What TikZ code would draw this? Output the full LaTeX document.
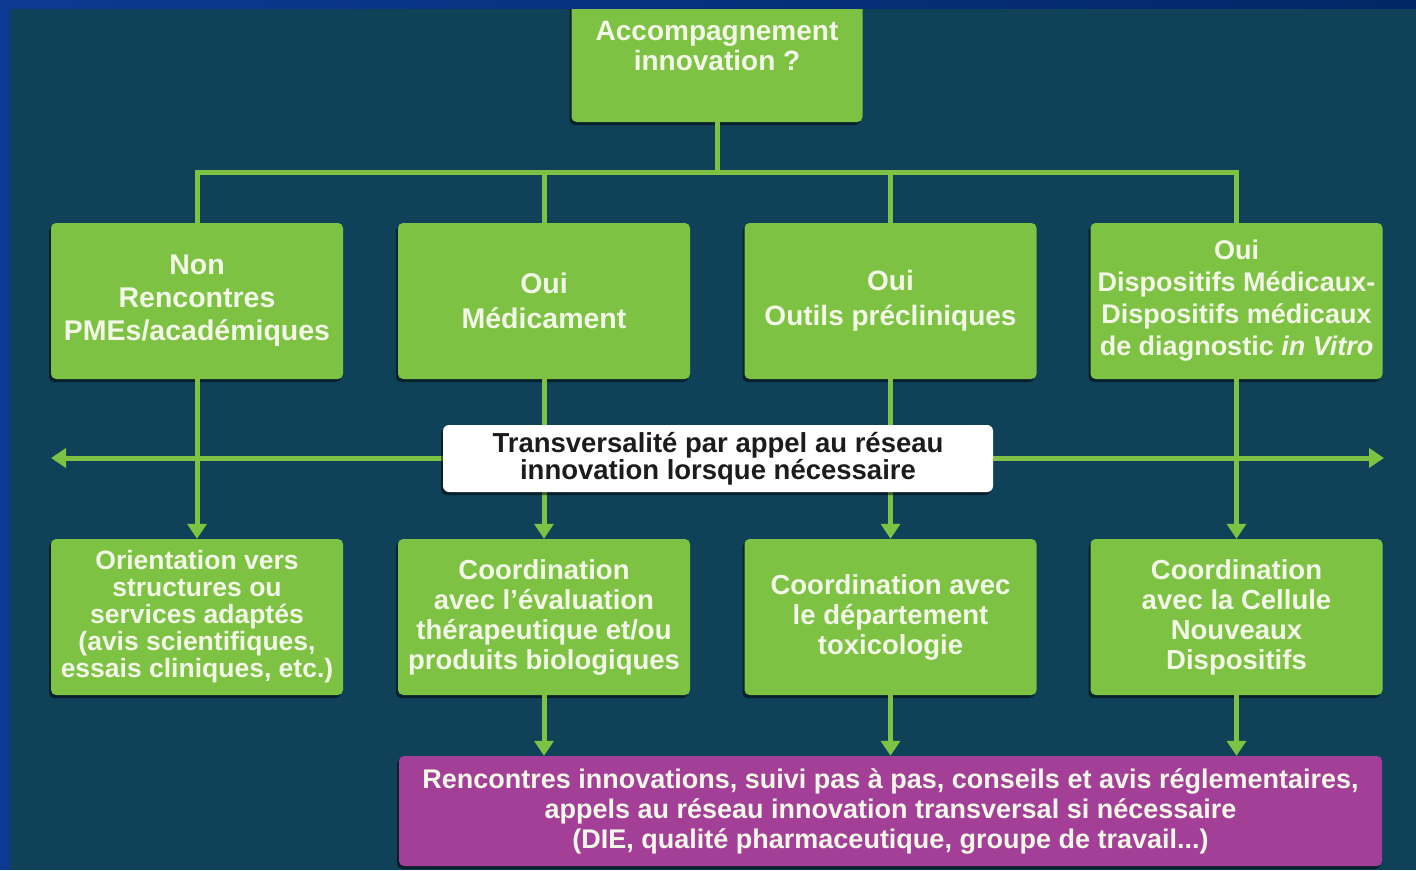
\documentclass[tikz,border=0pt]{standalone}
\usepackage{fontspec}
\setmainfont{Liberation Sans}
\usetikzlibrary{arrows.meta,shadows}
\definecolor{bg}{HTML}{0F4159}
\definecolor{frameblue}{HTML}{0C3A93}
\definecolor{framedark}{HTML}{022766}
\definecolor{grn}{HTML}{7DC242}
\definecolor{pur}{HTML}{A43F98}
\definecolor{lt}{HTML}{F3F7E8}
\definecolor{dk}{HTML}{1C1C1C}
\tikzset{
  shd/.style={drop shadow={shadow xshift=-2pt, shadow yshift=-3pt, opacity=0.5, fill=black}},
  gbox/.style={shd, rounded corners=5pt, fill=grn, text=lt, align=center, inner sep=0pt,
    minimum width=292pt, minimum height=156pt},
  rowa/.style={gbox, font=\bfseries\fontsize{28.5}{32}\selectfont},
  rowb/.style={gbox, font=\bfseries\fontsize{27.5}{30}\selectfont},
  link/.style={draw=grn, line width=5pt},
  arr/.style={link, -{Triangle[width=19pt,length=15pt]}},
  darr/.style={link, {Triangle[width=19pt,length=15pt]}-{Triangle[width=19pt,length=15pt]}},
}
\begin{document}
\begin{tikzpicture}[x=1pt,y=-1pt]
\useasboundingbox (0,0) rectangle (1416,870);
\fill[bg] (0,0) rectangle (1416,870);

% top box
\node[gbox, minimum width=291pt, minimum height=122pt] (top) at (717,61) {};
\node[text=lt, align=center, inner sep=0pt, font=\bfseries\fontsize{28}{30}\selectfont] (toptxt) at (717,46) {Accompagnement\\innovation ?};

% row 1
\node[rowa, font=\bfseries\fontsize{28.5}{33}\selectfont] (a1) at (197,301) {Non\\Rencontres\\PMEs/académiques};
\node[rowa, font=\bfseries\fontsize{28.5}{35}\selectfont] (a2) at (544,301) {Oui\\Médicament};
\node[rowa, font=\bfseries\fontsize{28}{35}\selectfont] (a3) at (890.5,301) {Oui\\Outils précliniques};
\node[rowa, font=\bfseries\fontsize{27}{32}\selectfont] (a4) at (1236.5,301) {Oui\\Dispositifs Médicaux-\\Dispositifs médicaux\\de diagnostic \textit{in Vitro}};

% row 2
\node[rowb, font=\bfseries\fontsize{26.5}{27}\selectfont] (b1) at (197,617) {Orientation vers\\structures ou\\services adaptés\\(avis scientifiques,\\essais cliniques, etc.)};
\node[rowb] (b2) at (544,617) {Coordination\\avec l'évaluation\\thérapeutique et/ou\\produits biologiques};
\node[rowb] (b3) at (890.5,617) {Coordination avec\\le département\\toxicologie};
\node[rowb] (b4) at (1236.5,617) {Coordination\\avec la Cellule\\Nouveaux\\Dispositifs};

% bottom purple box
\node[shd, rounded corners=5pt, fill=pur, text=lt, align=center, inner sep=0pt,
  minimum width=983pt, minimum height=110pt, font=\bfseries\fontsize{27}{30}\selectfont]
  (p) at (890.5,811) {\raisebox{-3pt}{\parbox{983pt}{\centering Rencontres innovations, suivi pas à pas, conseils et avis réglementaires,\\appels au réseau innovation transversal si nécessaire\\(DIE, qualité pharmaceutique, groupe de travail...)}}};

% tree connectors
\coordinate (hb) at (717,172);
\draw[link] (top.south) -- (hb);
\draw[link] (a1.north) -- ++(0,-50) -| (a4.north);
\draw[link] (a2.north) -- (a2.north |- hb);
\draw[link] (a3.north) -- (a3.north |- hb);

% transversal double arrow
\coordinate (L) at (51,458);
\coordinate (R) at (1384,458);
\draw[darr] (L) -- (R);

% vertical arrows
\draw[arr] (a1.south) -- (b1.north);
\draw[arr] (a2.south) -- (b2.north);
\draw[arr] (a3.south) -- (b3.north);
\draw[arr] (a4.south) -- (b4.north);
\draw[arr] (b2.south) -- (b2.south |- p.north);
\draw[arr] (b3.south) -- (b3.south |- p.north);
\draw[arr] (b4.south) -- (b4.south |- p.north);

% white box
\node[shd, rounded corners=6pt, fill=white, text=dk, align=center, inner sep=0pt,
  minimum width=550pt, minimum height=67pt, font=\bfseries\fontsize{27.5}{27}\selectfont]
  (w) at (718,458.5) {Transversalité par appel au réseau\\innovation lorsque nécessaire};

% frame
\shade[left color=frameblue, right color=framedark] (0,0) rectangle (1416,8);
\fill[frameblue] (0,0) rectangle (10,870);
\end{tikzpicture}
\end{document}
